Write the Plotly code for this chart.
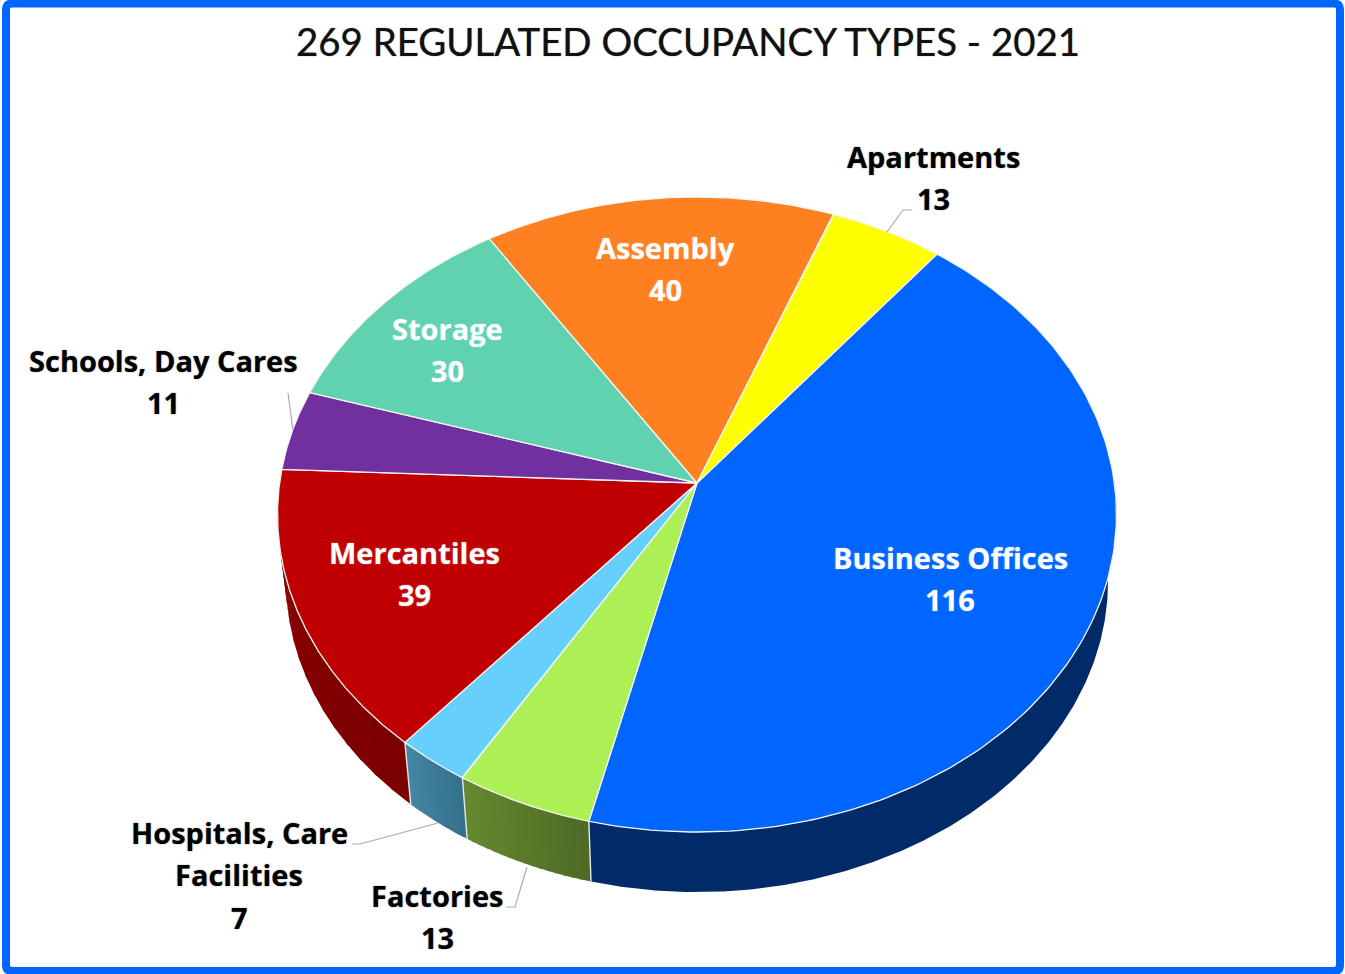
import numpy as np
import plotly.graph_objects as go

title = "269 REGULATED OCCUPANCY TYPES - 2021"
categories = ["Business Offices", "Factories", "Hospitals, Care Facilities", "Mercantiles",
              "Schools, Day Cares", "Storage", "Assembly", "Apartments"]
values = [116, 13, 7, 39, 11, 30, 40, 13]

top_colors = ["#0066FF", "#ACF056", "#66CFFB", "#C00000", "#7030A0", "#60D2B0", "#FF8021", "#FFFF00"]
side_colors = [("#002A68", "#002A68"), ("#4E6A26", "#66892F"), ("#347089", "#4487A6"),
               ("#7B0000", "#8C0000"), None, None, None, None]

# text placement: one entry per text line (centre x, centre y, colour)
name_lines = [["Business Offices"], ["Factories"], ["Hospitals, Care", "Facilities"], ["Mercantiles"],
              ["Schools, Day Cares"], ["Storage"], ["Assembly"], ["Apartments"]]
label_xy = [(950, 557), (437, 895), (239, 832), (414, 552), (163, 360), (447, 328), (665, 247), (933, 156)]
label_color = ["white", "black", "black", "white", "black", "white", "white", "black"]
LINE = 42.5

leaders = [[(887, 232), (903, 210), (912, 210)],
           [(288, 393), (293, 430)],
           [(438, 823), (360, 844), (352, 844)],
           [(527, 867), (515, 907), (506, 907)]]

# projection of the pie disc on the page
CX, CY = 697.0, 483.0
A, B, K = 417.4, 314.4, 0.0992
START = 38.3
DEPTH_CY, DEPTH_S = 550.0, 0.98


def project(deg, cy=CY, s=1.0):
    t = np.radians(deg)
    u, v = np.sin(t), np.cos(t)
    w = 1 + K * v
    return CX + s * A * u / w, cy - s * B * v / w


def hexmix(c1, c2, f):
    a = [int(c1[i:i + 2], 16) for i in (1, 3, 5)]
    b = [int(c2[i:i + 2], 16) for i in (1, 3, 5)]
    return "#%02x%02x%02x" % tuple(round(p + (q - p) * f) for p, q in zip(a, b))


fig = go.Figure()
angles = START + np.concatenate([[0], np.cumsum(values)]) * 360.0 / sum(values)

# side wall (front half only)
for i, pair in enumerate(side_colors):
    if pair is None:
        continue
    lo = max(angles[i], 78.0)
    hi = min(angles[i + 1], 282.0)
    n = 16 if i != 0 else 1
    edges = np.linspace(lo, hi, n + 1)
    for j in range(n):
        end = min(edges[j + 1] + 0.5, hi)
        d = np.linspace(edges[j], end, 40 if n > 1 else 240)
        xt, yt = project(d)
        xb, yb = project(d, DEPTH_CY, DEPTH_S)
        col = hexmix(pair[0], pair[1], (j + 0.5) / n)
        fig.add_trace(go.Scatter(x=np.r_[xt, xb[::-1]], y=np.r_[yt, yb[::-1]], mode="lines", fill="toself",
                                 fillcolor=col, line=dict(color=col, width=0), hoverinfo="skip", showlegend=False))

# dividing lines on the wall
for i in range(1, 4):
    x0, y0 = project(angles[i])
    x1, y1 = project(angles[i], DEPTH_CY, DEPTH_S)
    fig.add_trace(go.Scatter(x=[x0, x1], y=[y0, y1], mode="lines", line=dict(color="#E4E9E4", width=1.4),
                             hoverinfo="skip", showlegend=False))

# top slices
for i, cat in enumerate(categories):
    d = np.linspace(angles[i], angles[i + 1], 160)
    xs, ys = project(d)
    fig.add_trace(go.Scatter(x=np.r_[CX, xs, CX], y=np.r_[CY, ys, CY], mode="lines", fill="toself",
                             fillcolor=top_colors[i], line=dict(color="#F2F5F2", width=1.3),
                             name=cat, text=f"{cat}: {values[i]}", hoverinfo="text", showlegend=False))

# leader lines
for pts in leaders:
    fig.add_trace(go.Scatter(x=[p[0] for p in pts], y=[p[1] for p in pts], mode="lines",
                             line=dict(color="#ABABAB", width=1.2), hoverinfo="skip", showlegend=False))

LABEL_FONT = "Open Sans"
LABEL_SIZE = 29
anns = [dict(x=688, y=41, xref="x", yref="y", text=title, showarrow=False, xanchor="center", yanchor="middle",
             font=dict(family="Lato", size=38.4, color="#111111", shadow="0 0 1px rgba(0,0,0,0.7)"))]
for i, lines in enumerate(name_lines):
    x, y = label_xy[i]
    shadow = "0 0 1.5px rgba(0,0,0,0.5)" if label_color[i] == "black" else "0 0 1.5px rgba(255,255,255,0.5)"
    for n, txt in enumerate(lines + [str(values[i])]):
        anns.append(dict(x=x, y=y + n * LINE, xref="x", yref="y", text=txt, showarrow=False,
                         xanchor="center", yanchor="middle",
                         font=dict(family=LABEL_FONT, size=LABEL_SIZE, color=label_color[i], weight=700,
                                   shadow=shadow)))

frame = ("M 12 3.5 L 1334 3.5 Q 1340 3.5 1340 10 L 1340 965 Q 1340 971 1334 971 "
         "L 12 971 Q 6 971 6 965 L 6 10 Q 6 3.5 12 3.5 Z")

fig.update_layout(
    width=1345, height=974, autosize=False,
    margin=dict(l=0, r=0, t=0, b=0, pad=0),
    paper_bgcolor="white", plot_bgcolor="white",
    xaxis=dict(range=[0, 1345], visible=False, fixedrange=True),
    yaxis=dict(range=[974, 0], visible=False, fixedrange=True),
    annotations=anns,
    shapes=[dict(type="path", xref="x", yref="y", path=frame, line=dict(color="#0066FF", width=8), layer="above")],
    showlegend=False,
)

fig.write_html("out.html", config={"displayModeBar": False},
               post_script="document.body.style.margin='0';document.documentElement.style.overflow='hidden';")
